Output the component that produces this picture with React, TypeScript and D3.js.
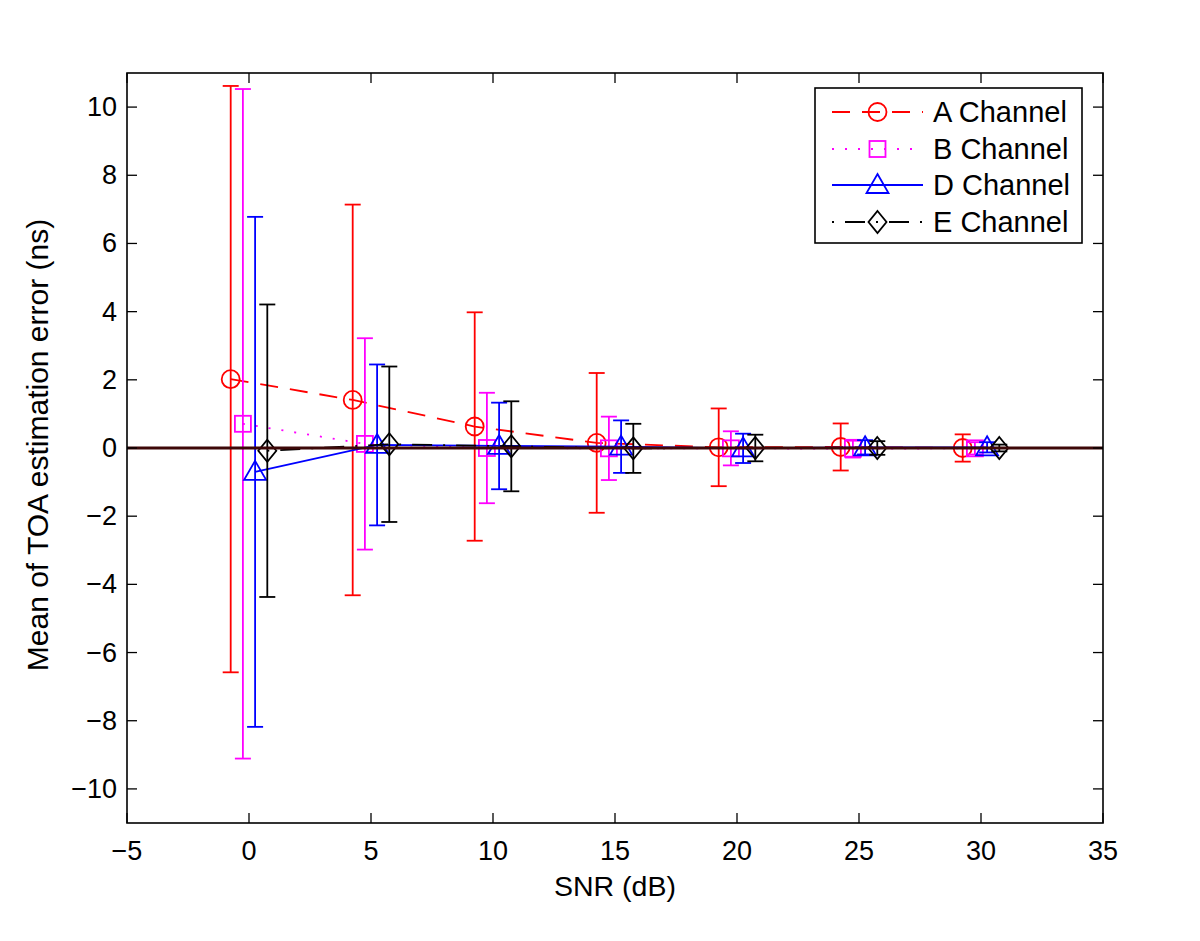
import React from "react";
import * as d3 from "d3";

const xTicks = [-5, 0, 5, 10, 15, 20, 25, 30, 35];
const yTicks = [-10, -8, -6, -4, -2, 0, 2, 4, 6, 8, 10];

const snrA = [-0.75, 4.25, 9.25, 14.25, 19.25, 24.25, 29.25];
const meanA = [2.02, 1.41, 0.63, 0.15, 0.02, 0.03, 0.0];
const errA = [8.6, 5.73, 3.35, 2.05, 1.14, 0.69, 0.4];

const snrB = [-0.25, 4.75, 9.75, 14.75, 19.75, 24.75, 29.75];
const meanB = [0.71, 0.12, 0.0, -0.01, -0.01, -0.02, -0.01];
const errB = [9.82, 3.1, 1.62, 0.93, 0.5, 0.26, 0.18];

const snrD = [0.25, 5.25, 10.25, 15.25, 20.25, 25.25, 30.25];
const meanD = [-0.7, 0.09, 0.06, 0.04, -0.01, 0.02, 0.02];
const errD = [7.48, 2.36, 1.27, 0.77, 0.43, 0.21, 0.15];

const snrE = [0.75, 5.75, 10.75, 15.75, 20.75, 25.75, 30.75];
const meanE = [-0.08, 0.11, 0.05, -0.01, 0.0, 0.0, 0.0];
const errE = [4.29, 2.28, 1.32, 0.72, 0.39, 0.2, 0.1];

const seriesNames = ["A Channel", "B Channel", "D Channel", "E Channel"];

const FONT = "'Liberation Sans', Arial, Helvetica, sans-serif";

type Series = {
  name: string;
  x: number[];
  m: number[];
  e: number[];
  color: string;
  dash: string;
  marker: "circle" | "square" | "triangle" | "diamond";
};

const series: Series[] = [
  { name: seriesNames[0], x: snrA, m: meanA, e: errA, color: "#ff0000", dash: "18,12", marker: "circle" },
  { name: seriesNames[1], x: snrB, m: meanB, e: errB, color: "#ff00ff", dash: "2,11", marker: "square" },
  { name: seriesNames[2], x: snrD, m: meanD, e: errD, color: "#0000ff", dash: "", marker: "triangle" },
  { name: seriesNames[3], x: snrE, m: meanE, e: errE, color: "#000000", dash: "2,11,20,11", marker: "diamond" },
];

function Marker({ type, cx, cy, color }: { type: string; cx: number; cy: number; color: string }) {
  const common = { fill: "none", stroke: color, strokeWidth: 1.8 };
  if (type === "circle") return <circle cx={cx} cy={cy} r={9} {...common} />;
  if (type === "square") return <rect x={cx - 8} y={cy - 8} width={16} height={16} {...common} />;
  if (type === "triangle")
    return <path d={`M${cx},${cy - 11}L${cx + 11},${cy + 8}L${cx - 11},${cy + 8}Z`} {...common} />;
  return <path d={`M${cx},${cy - 11}L${cx + 9},${cy}L${cx},${cy + 11}L${cx - 9},${cy}Z`} {...common} />;
}

export default function App() {
  const left = 127, right = 1103, top = 73, bottom = 823;
  const x = d3.scaleLinear().domain([-5, 35]).range([left, right]);
  const y = d3.scaleLinear().domain([-11, 11]).range([bottom, top]);
  const line = d3.line<[number, number]>().x((d) => x(d[0])).y((d) => y(d[1]));
  const cap = 8;
  const tickLen = 10;

  const legX = 815, legY = 88, legW = 267, legH = 155;
  const rowY = [112, 149, 185, 222];

  return (
    <svg width={1200} height={941} style={{ position: "absolute", left: 0, top: 0, background: "#fff" }}>
      <rect x={0} y={0} width={1200} height={941} fill="#fff" />
      {series.map((s) => (
        <g key={s.name}>
          {s.x.map((xv, i) => {
            const xp = x(xv);
            const yt = y(s.m[i] + s.e[i]);
            const yb = y(s.m[i] - s.e[i]);
            return (
              <g key={i} stroke={s.color} strokeWidth={1.8}>
                <line x1={xp} x2={xp} y1={yt} y2={yb} />
                <line x1={xp - cap} x2={xp + cap} y1={yt} y2={yt} />
                <line x1={xp - cap} x2={xp + cap} y1={yb} y2={yb} />
              </g>
            );
          })}
          <path
            d={line(s.x.map((xv, i) => [xv, s.m[i]] as [number, number])) || ""}
            fill="none"
            stroke={s.color}
            strokeWidth={1.8}
            strokeDasharray={s.dash || undefined}
          />
          {s.x.map((xv, i) => (
            <Marker key={i} type={s.marker} cx={x(xv)} cy={y(s.m[i])} color={s.color} />
          ))}
        </g>
      ))}
      <line x1={left} x2={right} y1={y(0)} y2={y(0)} stroke="#3d0808" strokeWidth={3} />
      <rect x={left} y={top} width={right - left} height={bottom - top} fill="none" stroke="#000" strokeWidth={1.6} />
      {xTicks.map((t) => (
        <g key={"x" + t}>
          <line x1={x(t)} x2={x(t)} y1={bottom} y2={bottom - tickLen} stroke="#000" strokeWidth={1.3} />
          <line x1={x(t)} x2={x(t)} y1={top} y2={top + tickLen} stroke="#000" strokeWidth={1.3} />
          <text x={x(t)} y={851} textAnchor="middle" dominantBaseline="central" fontFamily={FONT} fontSize={27}>
            {t < 0 ? "\u2212" + Math.abs(t) : String(t)}
          </text>
        </g>
      ))}
      {yTicks.map((t) => (
        <g key={"y" + t}>
          <line x1={left} x2={left + tickLen} y1={y(t)} y2={y(t)} stroke="#000" strokeWidth={1.3} />
          <line x1={right} x2={right - tickLen} y1={y(t)} y2={y(t)} stroke="#000" strokeWidth={1.3} />
          <text x={117} y={y(t)} textAnchor="end" dominantBaseline="central" fontFamily={FONT} fontSize={27}>
            {t < 0 ? "\u2212" + Math.abs(t) : String(t)}
          </text>
        </g>
      ))}
      <text x={(left + right) / 2} y={886} textAnchor="middle" dominantBaseline="central" fontFamily={FONT} fontSize={28.5}>
        SNR (dB)
      </text>
      <text
        transform={`translate(37,${445}) rotate(-90)`}
        textAnchor="middle"
        dominantBaseline="central"
        fontFamily={FONT}
        fontSize={30}
      >
        Mean of TOA estimation error (ns)
      </text>
      <rect x={legX} y={legY} width={legW} height={legH} fill="#fff" stroke="#000" strokeWidth={1.6} />
      {series.map((s, i) => (
        <g key={"leg" + i}>
          <line
            x1={832}
            x2={923}
            y1={rowY[i]}
            y2={rowY[i]}
            stroke={s.color}
            strokeWidth={1.8}
            strokeDasharray={s.dash || undefined}
          />
          <Marker type={s.marker} cx={877.5} cy={rowY[i]} color={s.color} />
          <text x={933} y={rowY[i]} dominantBaseline="central" fontFamily={FONT} fontSize={29}>
            {s.name}
          </text>
        </g>
      ))}
    </svg>
  );
}
